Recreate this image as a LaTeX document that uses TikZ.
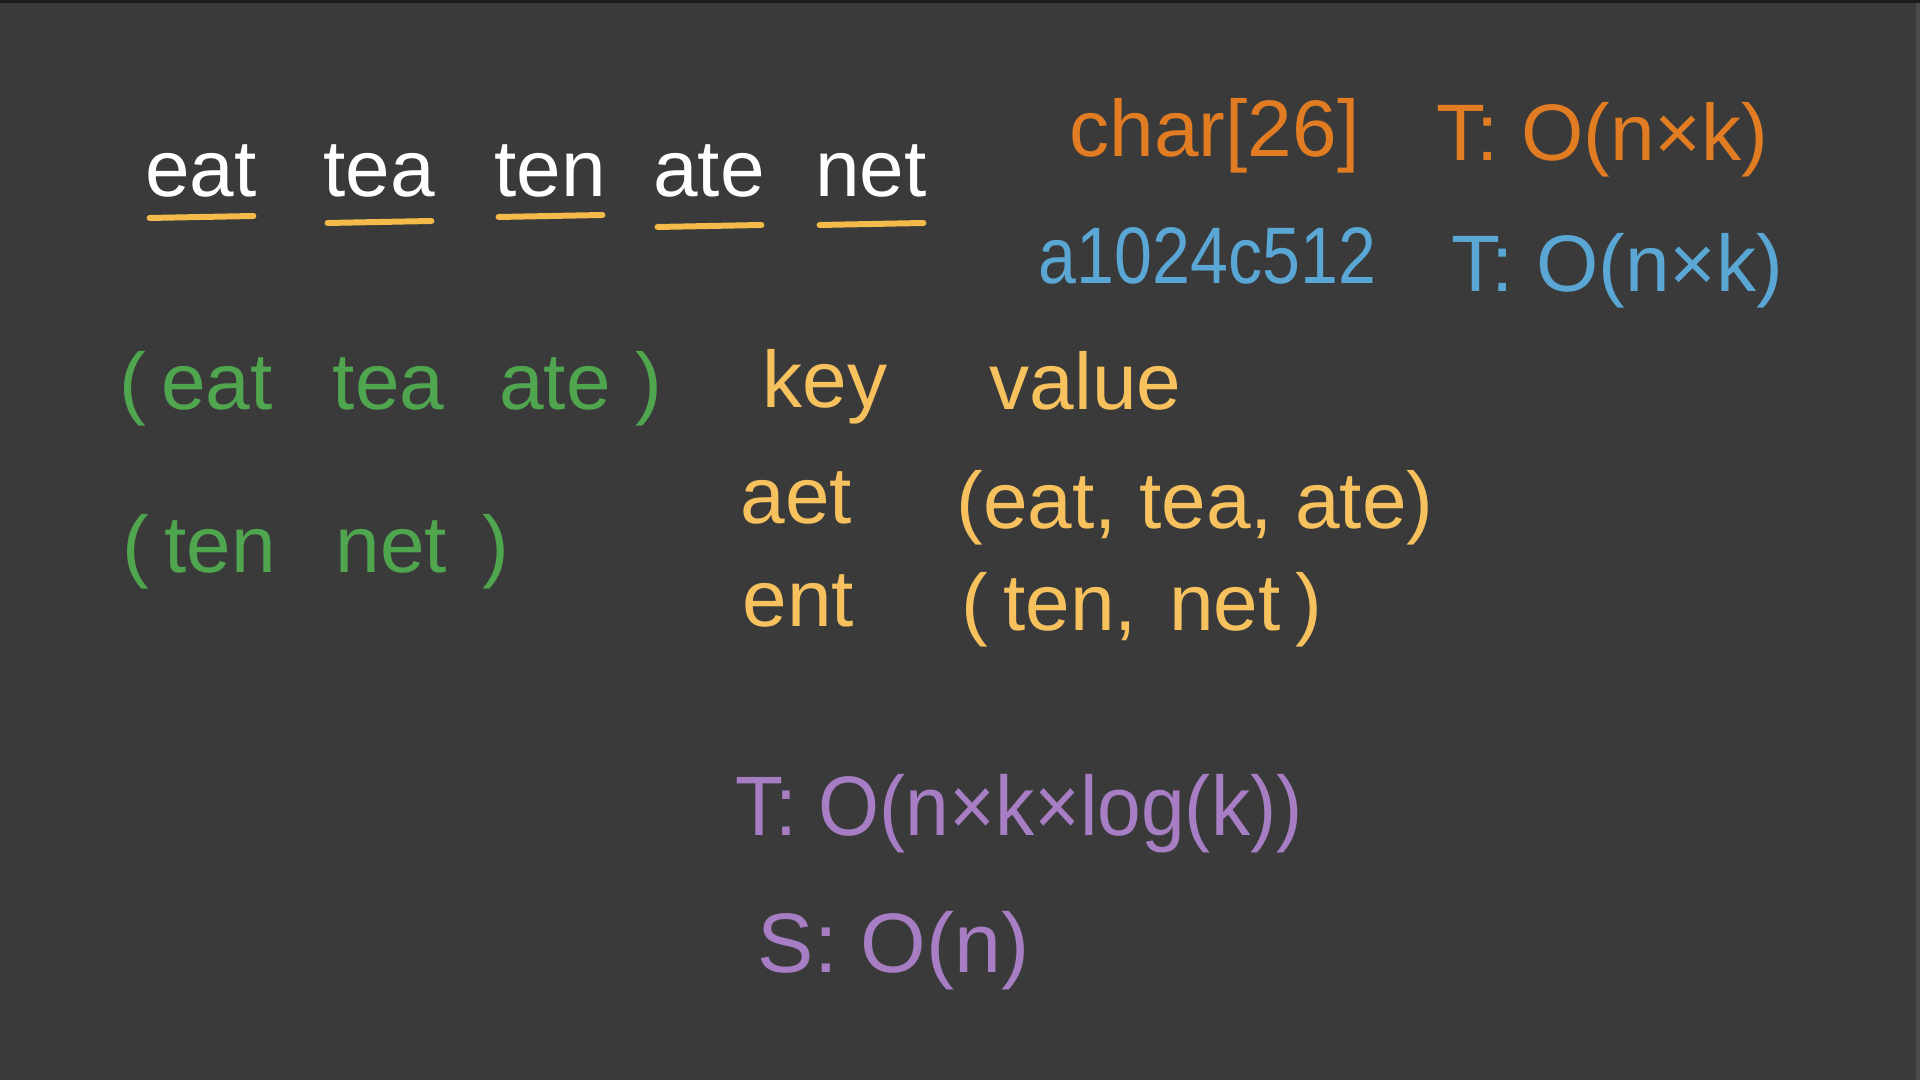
\documentclass[tikz,border=0pt]{standalone}
\usepackage{graphicx}
\usepackage{fontspec}
\setmainfont{Liberation Sans}
\definecolor{board}{HTML}{3A3A3A}
\definecolor{edgetop}{HTML}{1C1C1C}
\definecolor{edgeright}{HTML}{4C4C4C}
\definecolor{hl}{HTML}{F4BA4A}
\definecolor{inkorange}{HTML}{E27C22}
\definecolor{inkblue}{HTML}{5AA6D4}
\definecolor{inkgreen}{HTML}{4FA64F}
\definecolor{inkyellow}{HTML}{F7C25E}
\definecolor{inkpurple}{HTML}{A77DC4}

\begin{document}
\begin{tikzpicture}[x=0.01cm, y=-0.01cm,
                    txt/.style={inner sep=0pt, anchor=base west, font=\fontsize{22.8}{27}\selectfont},
                    word/.style={txt, anchor=base, text=white},
                    uline/.style={draw=hl, line width=1.7pt, line cap=round},
                    grp/.style={txt, text=inkgreen},
                    kv/.style={txt, text=inkyellow},
                    cplx/.style={txt, text=inkpurple, font=\fontsize{24}{28}\selectfont}]
    % board
    \useasboundingbox (0,0) rectangle (1920,1080);
    \fill[board] (0,0) rectangle (1920,1080);
    \fill[edgetop] (0,0) rectangle (1920,3);
    \fill[edgeright] (1916,3) rectangle (1920,1080);

    % input words, underlined
    \foreach \w/\x/\dy in {eat/201/21,tea/379/26,ten/550/20,ate/709/30,net/871/28} {
        \node[word] (\w) at (\x,197) {\w};
        \draw[uline] ([shift={(5,\dy)}]\w.base west) -- ([shift={(-4,\dy-2)}]\w.base east);
    }

    % two ways to build the key
    \node[txt, text=inkorange] (sortkey) at (1069,157) {char[26]};
    \node[txt, text=inkorange] (sortT) at (1436,161) {T: O(n×k)};
    \node[txt, text=inkblue] (countkey) at (1038,284) {\scalebox{0.85}[1]{a1024c512}};
    \node[txt, text=inkblue] (countT) at (1451,292) {T: O(n×k)};

    % groups
    \node[grp] (grpA) at (119,410) {(\hspace{0.15cm}eat\hspace{0.6cm}tea\hspace{0.55cm}ate\hspace{0.25cm})};
    \node[grp] (grpB) at (122,573) {(\hspace{0.15cm}ten\hspace{0.6cm}net\hspace{0.35cm})};

    % hash map
    \node[kv] (key) at (762,408) {key};
    \node[kv] (value) at (989,410) {value};
    \node[kv] (keyA) at (740,524) {aet};
    \node[kv] (valA) at (956,529) {(eat, tea, ate)};
    \node[kv] (keyB) at (742,627) {ent};
    \node[kv] (valB) at (961,631) {(\hspace{0.15cm}ten,\hspace{0.1cm} net\hspace{0.15cm})};

    % complexity
    \node[cplx] (timeT) at (735,836) {\scalebox{0.93}[1]{T: O(n×k×log(k))}};
    \node[cplx] (spaceS) at (757,973) {S: O(n)};
\end{tikzpicture}
\end{document}
